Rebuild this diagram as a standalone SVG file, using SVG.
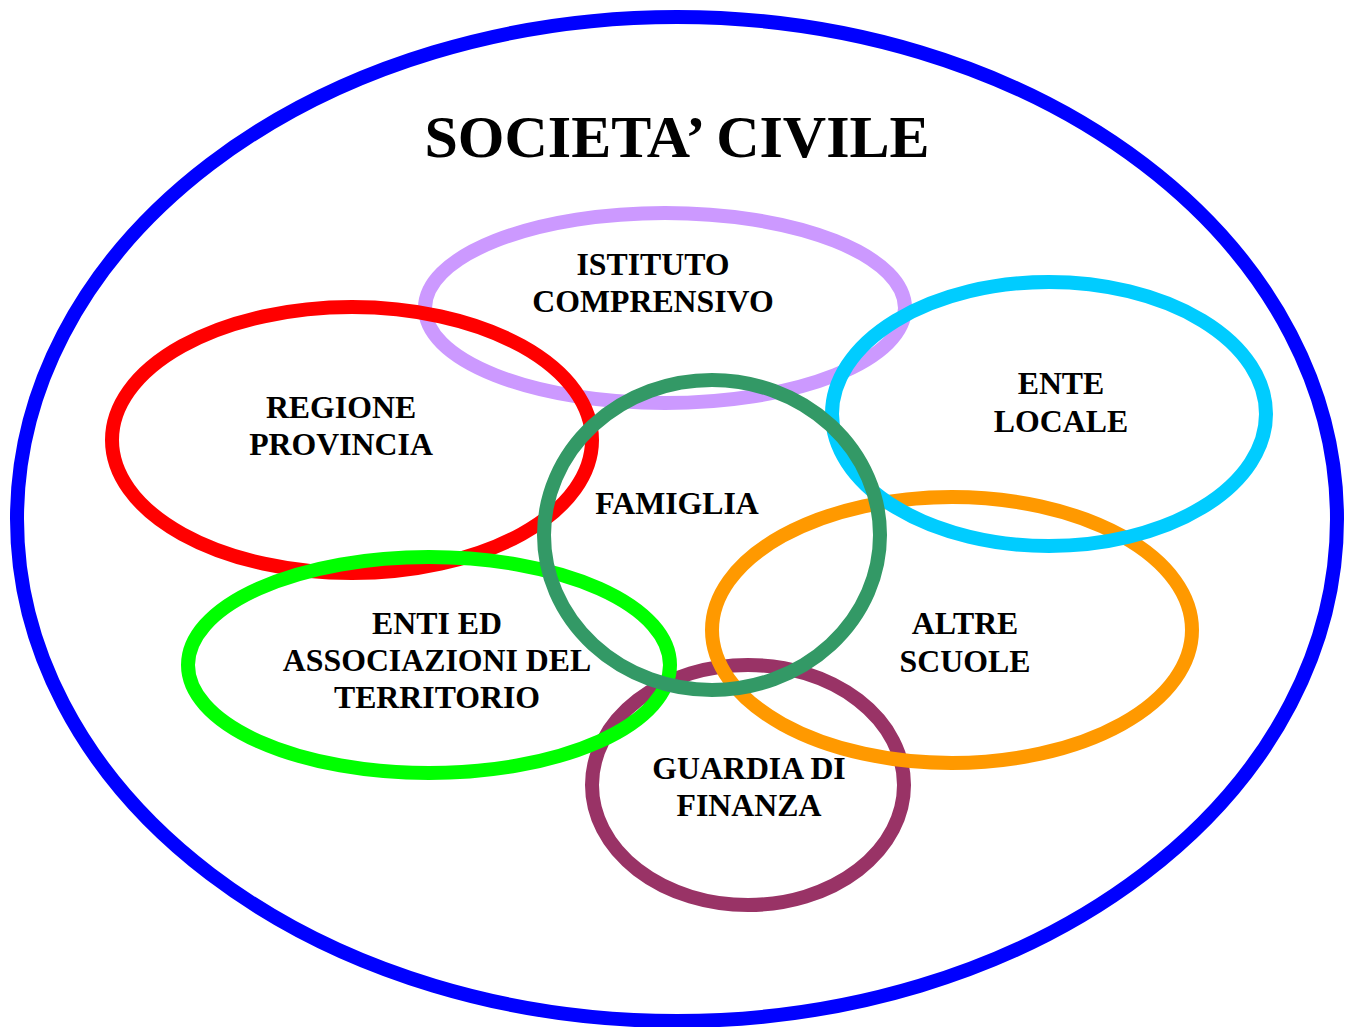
<svg xmlns="http://www.w3.org/2000/svg" width="1350" height="1027" viewBox="0 0 1350 1027">
<style>
.ring{fill:none;stroke-width:14}
.lbl{font-family:"Liberation Serif","Times New Roman",serif;font-weight:bold;font-size:31.8px;fill:#000;text-anchor:middle}
.title{font-family:"Liberation Serif","Times New Roman",serif;font-weight:bold;font-size:60px;fill:#000;text-anchor:middle}
</style>
<rect width="1350" height="1027" fill="#fff"/>
<g id="societa-civile">
<ellipse class="ring" cx="677" cy="519" rx="660" ry="502" stroke="#0000ff" stroke-width="16"/>
<text class="title" x="677" y="157">SOCIETA’ CIVILE</text>
</g>
<g id="istituto-comprensivo">
<ellipse class="ring" cx="665" cy="308" rx="240" ry="95" stroke="#cc99ff"/>
<text class="lbl" x="653" y="275">ISTITUTO</text>
<text class="lbl" x="653" y="312">COMPRENSIVO</text>
</g>
<g id="regione-provincia">
<ellipse class="ring" cx="352" cy="440" rx="240" ry="133" stroke="#ff0000"/>
<text class="lbl" x="341" y="418">REGIONE</text>
<text class="lbl" x="341" y="455">PROVINCIA</text>
</g>
<g id="guardia-di-finanza">
<ellipse class="ring" cx="748" cy="785" rx="156" ry="120" stroke="#993366"/>
<text class="lbl" x="749" y="779">GUARDIA DI</text>
<text class="lbl" x="749" y="816">FINANZA</text>
</g>
<g id="enti-associazioni">
<ellipse class="ring" cx="429" cy="665" rx="241" ry="108" stroke="#00ff00"/>
<text class="lbl" x="437" y="634">ENTI ED</text>
<text class="lbl" x="437" y="671">ASSOCIAZIONI DEL</text>
<text class="lbl" x="437" y="708">TERRITORIO</text>
</g>
<g id="altre-scuole">
<ellipse class="ring" cx="952" cy="630" rx="240" ry="133" stroke="#ff9900"/>
<text class="lbl" x="965" y="634">ALTRE</text>
<text class="lbl" x="965" y="672">SCUOLE</text>
</g>
<g id="ente-locale">
<ellipse class="ring" cx="1049" cy="414" rx="217" ry="132" stroke="#00ccff"/>
<text class="lbl" x="1061" y="394">ENTE</text>
<text class="lbl" x="1061" y="432">LOCALE</text>
</g>
<g id="famiglia">
<ellipse class="ring" cx="712" cy="535" rx="168" ry="155" stroke="#339966"/>
<text class="lbl" x="677" y="514">FAMIGLIA</text>
</g>
<g id="connectors"/>
</svg>
